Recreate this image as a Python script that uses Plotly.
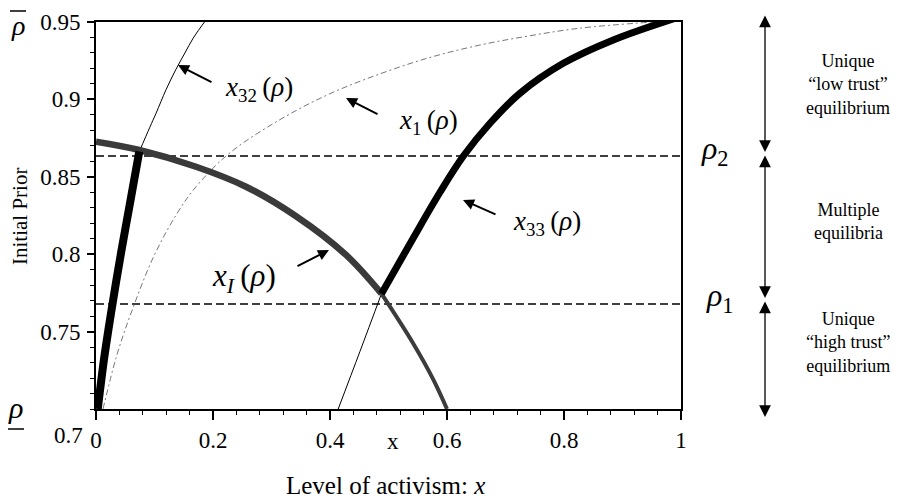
import plotly.graph_objects as go

# ---------------- data ----------------
x_tick_vals = [0, 0.2, 0.4, 0.6, 0.8, 1]
x_tick_text = ["0", "0.2", "0.4", "0.6", "0.8", "1"]
y_tick_vals = [0.75, 0.8, 0.85, 0.9, 0.95]
y_tick_text = ["0.75", "0.8", "0.85", "0.9", "0.95"]

# x32(rho): thick equilibrium branch below its crossing with x_I, thin above
x32_low_x = [0.003, 0.014, 0.0256, 0.0427, 0.057, 0.074]
x32_low_rho = [0.700, 0.733, 0.7618, 0.8006, 0.8307, 0.8663]
x32_up_x = [0.074, 0.092, 0.1026, 0.120, 0.1368, 0.152, 0.166, 0.188]
x32_up_rho = [0.8663, 0.882, 0.891, 0.9065, 0.9195, 0.930, 0.9395, 0.9513]

# x33(rho): thin below its crossing with x_I, thick equilibrium branch above
x33_low_x = [0.414, 0.451, 0.488]
x33_low_rho = [0.700, 0.737, 0.7745]
x33_up_x = [0.488, 0.5424, 0.588, 0.628, 0.6735, 0.7248, 0.7988, 0.8843, 0.998]
x33_up_rho = [0.7745, 0.8105, 0.8400, 0.8634, 0.8846, 0.904, 0.9233, 0.9384, 0.9534]

# x_I(rho): thick down to its crossing with x33 (first xI_thick_n points), medium below
xI_x = [0.0, 0.074, 0.171, 0.2564, 0.342, 0.4274, 0.488, 0.542, 0.576, 0.600]
xI_rho = [0.8727, 0.8673, 0.8565, 0.8436, 0.8245, 0.7995, 0.7745, 0.7425, 0.7195, 0.700]
xI_thick_n = 7

# x1(rho)
x1_x = [0.012, 0.035, 0.060, 0.098, 0.138, 0.171, 0.228, 0.3134, 0.3989, 0.4855,
        0.570, 0.656, 0.740, 0.827, 0.952]
x1_rho = [0.700, 0.734, 0.762, 0.798, 0.826, 0.8436, 0.8652, 0.8867, 0.9035, 0.9165,
          0.927, 0.9351, 0.941, 0.946, 0.950]

# thresholds rho1, rho2
rho_levels = [0.7678, 0.8634]
rho_names = ["<i>ρ</i><sub>1</sub>", "<i>ρ</i><sub>2</sub>"]

# ---------------- figure ----------------
FONT = "Liberation Serif"
OFF = 8                      # page body margin of the html page
W, H = 909 - OFF, 504 - OFF
L, T = 96 - OFF, 22 - OFF    # plot area in screenshot pixels: x 96..681, y 22..409
PW, PH = 585, 387
R, B = W - L - PW, H - T - PH


def P(px, py):
    """screenshot pixel -> paper coordinates"""
    return (px - OFF - L) / PW, (T + PH - (py - OFF)) / PH


fig = go.Figure()

# horizontal dashed threshold lines
for lvl in rho_levels:
    fig.add_trace(go.Scatter(x=[0, 1], y=[lvl, lvl], mode="lines",
                             line=dict(color="black", width=1.5, dash="8px,4px"),
                             hoverinfo="skip"))

# x1 (thin dashed grey)
fig.add_trace(go.Scatter(x=x1_x, y=x1_rho, mode="lines", line_shape="spline",
                         line=dict(color="#777777", width=1, dash="6px,3px,2px,3px")))

# thin branches
fig.add_trace(go.Scatter(x=x32_up_x, y=x32_up_rho, mode="lines", line_shape="spline",
                         line=dict(color="black", width=1)))
fig.add_trace(go.Scatter(x=x33_low_x, y=x33_low_rho, mode="lines", line_shape="spline",
                         line=dict(color="black", width=1)))
fig.add_trace(go.Scatter(x=xI_x[xI_thick_n - 1:], y=xI_rho[xI_thick_n - 1:], mode="lines",
                         line_shape="spline", line=dict(color="#3c3c3c", width=4)))

# thick equilibrium branches
fig.add_trace(go.Scatter(x=xI_x[:xI_thick_n], y=xI_rho[:xI_thick_n], mode="lines",
                         line_shape="spline", line=dict(color="#3a3a3a", width=6.5)))
fig.add_trace(go.Scatter(x=x32_low_x, y=x32_low_rho, mode="lines", line_shape="spline",
                         line=dict(color="black", width=8)))
fig.add_trace(go.Scatter(x=x33_up_x, y=x33_up_rho, mode="lines", line_shape="spline",
                         line=dict(color="black", width=7)))

ann = []


def text(px, py, s, size, **kw):
    x, y = P(px, py)
    d = dict(x=x, y=y, xref="paper", yref="paper", text=s, showarrow=False,
             font=dict(family=FONT, size=size, color="black"),
             xanchor="center", yanchor="middle")
    d.update(kw)
    ann.append(d)


def arrow(hx, hy, tx, ty, width, size, both=False):
    x, y = P(hx, hy)
    ann.append(dict(x=x, y=y, xref="paper", yref="paper", text="",
                    showarrow=True, ax=tx - hx, ay=ty - hy, axref="pixel", ayref="pixel",
                    arrowhead=2, arrowsize=size, arrowwidth=width, arrowcolor="black",
                    arrowside="end+start" if both else "end",
                    startarrowhead=2, startarrowsize=size))


TS = "\u2009"
# curve labels
text(259, 89, "<i>x</i><sub>32</sub>" + TS + "(<i>ρ</i>)", 27)
text(428, 122, "<i>x</i><sub>1</sub>" + TS + "(<i>ρ</i>)", 27)
text(547, 223, "<i>x</i><sub>33</sub>" + TS + "(<i>ρ</i>)", 27)
text(244, 278, "<i>x<sub>I</sub></i>" + TS + "(<i>ρ</i>)", 31)

# pointer arrows
arrow(178, 65, 213, 83, 2, 1.1)
arrow(346, 98, 379, 115, 2, 1.1)
arrow(463, 200, 497, 215, 2, 1.1)
arrow(329, 250, 296, 267, 2, 1.1)

# right-hand range arrows
arrow(765, 152, 765, 14, 1.3, 1.8, both=True)
arrow(765, 298, 765, 154, 1.3, 1.8, both=True)
arrow(765, 417, 765, 300, 1.3, 1.8, both=True)

text(715, 150, rho_names[1], 32)
text(720, 297, rho_names[0], 32)
text(848, 84, "Unique<br>“low trust”<br>equilibrium", 18)
text(848, 222, "Multiple<br>equilibria", 18)
text(848, 342, "Unique<br>“high trust”<br>equilibrium", 18)

# axis decorations (upper and lower bound of the prior)
text(18, 26, "<i>ρ</i>", 28)
text(16, 407, "<i>ρ</i>", 30)
text(68, 435, "0.7", 23)
text(393, 441, "x", 23)
text(385, 485, "Level of activism: <i>x</i>", 25)
text(20, 217, "Initial Prior", 21, textangle=-90)

shapes = []
for (xa, xb, yy) in [(10, 26, 11), (6, 24, 429)]:
    a, b = P(xa, yy)
    c, d = P(xb, yy)
    shapes.append(dict(type="line", xref="paper", yref="paper", x0=a, y0=b, x1=c, y1=d,
                       line=dict(color="black", width=1.5)))

fig.update_layout(
    width=W, height=H, autosize=False,
    margin=dict(l=L, r=R, t=T, b=B, pad=0, autoexpand=False),
    plot_bgcolor="white", paper_bgcolor="white",
    showlegend=False,
    annotations=ann, shapes=shapes,
    font=dict(family=FONT, color="black"),
)
fig.update_xaxes(range=[0, 1], showgrid=False, zeroline=False, showline=True,
                 automargin=False,
                 linecolor="black", linewidth=2, mirror=True,
                 ticks="outside", ticklen=9, tickwidth=1.5, tickcolor="black",
                 tickvals=x_tick_vals, ticktext=x_tick_text,
                 tickfont=dict(family=FONT, size=23, color="black"),
                 minor=dict(tick0=0, dtick=0.04, ticks="outside", ticklen=4,
                            tickwidth=1, tickcolor="black", showgrid=False))
fig.update_yaxes(range=[0.7, 0.95], showgrid=False, zeroline=False, showline=True,
                 automargin=False,
                 linecolor="black", linewidth=2, mirror=True,
                 ticks="outside", ticklen=7, tickwidth=1.5, tickcolor="black",
                 tickvals=y_tick_vals, ticktext=y_tick_text,
                 tickfont=dict(family=FONT, size=23, color="black"),
                 ticklabelstandoff=2,
                 minor=dict(tick0=0.7, dtick=0.01, ticks="outside", ticklen=4,
                            tickwidth=1, tickcolor="black", showgrid=False))

fig.write_html("out.html")
